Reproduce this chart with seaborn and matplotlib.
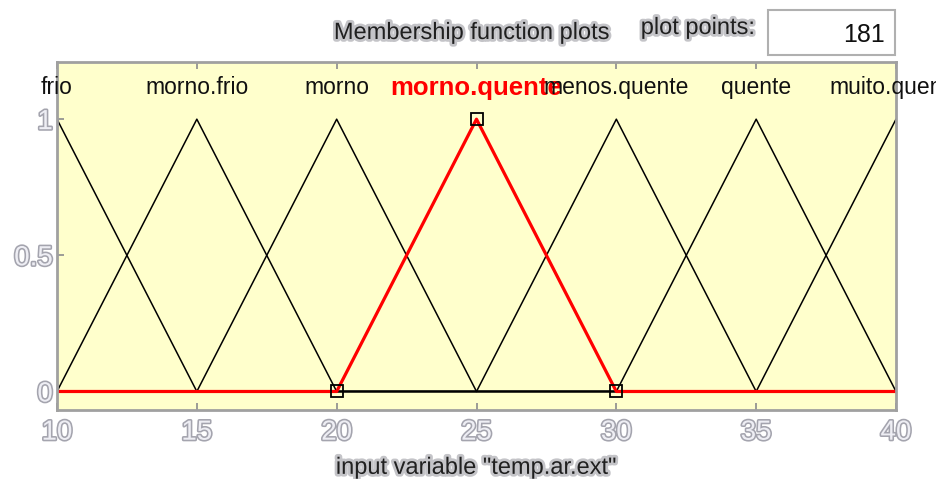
import numpy as np
import pandas as pd
import matplotlib
matplotlib.use("Agg")
import matplotlib.pyplot as plt
import matplotlib.patheffects as pe
from matplotlib.patches import Rectangle
import seaborn as sns

# Membership functions of input variable "temp.ar.ext" (triangular: a, b, c)
mf_names = ["frio", "morno.frio", "morno", "morno.quente",
            "menos.quente", "quente", "muito.quente"]
mf_a = [5, 10, 15, 20, 25, 30, 35]
mf_b = [10, 15, 20, 25, 30, 35, 40]
mf_c = [15, 20, 25, 30, 35, 40, 45]
selected = "morno.quente"

x_range = [10, 40]
n_points = 181
x_ticks = [10, 15, 20, 25, 30, 35, 40]
y_ticks = [0, 0.5, 1]
y_tick_labels = ["0", "0.5", "1"]

sns.set_theme(style="white")
plt.rcParams["font.family"] = ["Liberation Sans", "DejaVu Sans"]
narrow = ["Liberation Sans Narrow", "Liberation Sans", "DejaVu Sans"]

xs = np.linspace(x_range[0], x_range[1], n_points)
rows = []
for name, a, b, c in zip(mf_names, mf_a, mf_b, mf_c):
    ys = np.interp(xs, [a, b, c], [0, 1, 0], left=0, right=0)
    rows.append(pd.DataFrame({"x": xs, "mu": ys, "mf": name}))
df = pd.concat(rows, ignore_index=True)

fig = plt.figure(figsize=(9.37, 4.79), dpi=100)
fig.patch.set_facecolor("white")
ax = fig.add_axes([57 / 937, 1 - 410 / 479, (896 - 57) / 937, (410 - 62) / 479])
ax.set_facecolor("#ffffcc")

others = df[df["mf"] != selected]
sel = df[df["mf"] == selected]
sns.lineplot(data=others, x="x", y="mu", units="mf", estimator=None,
             color="black", linewidth=1.1, ax=ax, legend=False, sort=False)
sns.lineplot(data=sel, x="x", y="mu", estimator=None, color="#ff0000",
             linewidth=2.3, ax=ax, legend=False, sort=False)

# parameter handles of the selected function
i_sel = mf_names.index(selected)
px = [mf_a[i_sel], mf_b[i_sel], mf_c[i_sel]]
ax.plot(px, [0, 1, 0], linestyle="none", marker="s", markersize=9,
        markerfacecolor="none", markeredgecolor="black",
        markeredgewidth=1.3, clip_on=False, zorder=5)

# function names above the peaks
for name, b in zip(mf_names, mf_b):
    if name == selected:
        ax.text(b, 1.115, name, ha="center", va="center", color="#ff0000",
                fontsize=18.5, fontweight="bold", clip_on=False, zorder=6)
    else:
        ax.text(b, 1.115, name, ha="center", va="center", color="#101010",
                fontsize=16.5, clip_on=False, zorder=6)

ax.set_xlim(x_range)
ax.set_ylim(-0.068, 1.21)
ax.set_xticks(x_ticks)
ax.set_yticks(y_ticks)
ax.set_yticklabels(y_tick_labels)
ax.tick_params(axis="x", direction="in", length=5, color="#909090",
               top=True, bottom=True, pad=7, labelsize=20,
               labelcolor="#eeeef4")
ax.tick_params(axis="y", direction="in", length=5, color="#909090",
               left=True, pad=3, labelsize=20, labelcolor="#eeeef4")
for lab in ax.get_xticklabels() + ax.get_yticklabels():
    lab.set_family(narrow)
    lab.set_path_effects([pe.withStroke(linewidth=2.3, foreground="#a4a4ae")])
for sp in ax.spines.values():
    sp.set_color("#a0a0a0")
    sp.set_linewidth(2)

ax.set_xlabel('input variable "temp.ar.ext"', fontsize=17, color="#202020",
              labelpad=8,
              path_effects=[pe.withStroke(linewidth=4, foreground="#c4c4c8")])
ax.set_ylabel("")

# header area
fig.text(472 / 937, 1 - 33 / 479, "Membership function plots", ha="center",
         va="center", fontsize=17, color="#202020",
         path_effects=[pe.withStroke(linewidth=4, foreground="#c4c4c8")])
fig.text(698 / 937, 1 - 28 / 479, "plot points:", ha="center", va="center",
         fontsize=17, color="#202020",
         path_effects=[pe.withStroke(linewidth=4, foreground="#c4c4c8")])
fig.patches.append(Rectangle((768 / 937, 1 - 55 / 479), (895 - 768) / 937,
                             (55 - 10) / 479, transform=fig.transFigure,
                             facecolor="white", edgecolor="#b0b0b0",
                             linewidth=1.5))
fig.text(885 / 937, 1 - 35 / 479, str(n_points), ha="right", va="center",
         fontsize=18, color="#101010")

fig.savefig("out.png", dpi=100)
